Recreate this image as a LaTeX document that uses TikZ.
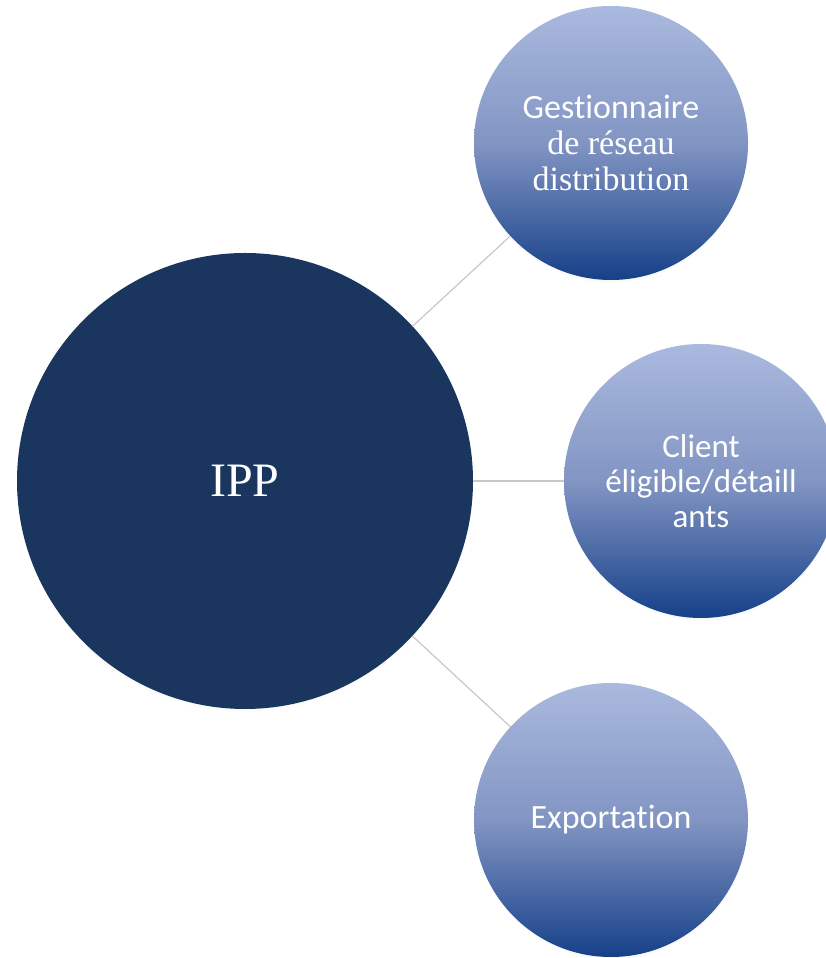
\documentclass[tikz,border=0pt]{standalone}
\usepackage{fontspec}
\setmainfont{Liberation Serif}
\newfontfamily\carlito[Ligatures=NoCommon]{Carlito}
\usetikzlibrary{shadows}
\definecolor{ippblue}{RGB}{26,54,94}
\definecolor{gtop}{RGB}{170,185,222}
\definecolor{gmid}{RGB}{130,149,195}
\definecolor{gbot}{RGB}{22,64,137}
\definecolor{linkgray}{RGB}{200,200,200}
\begin{document}
\begin{tikzpicture}[x=1pt,y=1pt,
  hub/.style={circle, inner sep=0pt, minimum size=456pt, fill=ippblue, text=white,
    font=\fontsize{48}{50}\selectfont,
    circular drop shadow={shadow xshift=0pt, shadow yshift=-3pt, opacity=0.3, shadow scale=1.0}},
  bubble/.style={circle, inner sep=0pt, minimum size=274pt, top color=gtop, bottom color=gbot, middle color=gmid,
    text=white, align=center,
    circular drop shadow={shadow xshift=0pt, shadow yshift=-3pt, opacity=0.3, shadow scale=1.0}},
  link/.style={draw=linkgray, line width=1.2pt}]
\useasboundingbox (0,0) rectangle (825,958);
\fill[white] (0,0) rectangle (825,958);
\node[hub] (ipp) at (245,477) {IPP};
\node[bubble, font=\fontsize{34}{36}\selectfont] (gest) at (611,815) {{\carlito Gestionnaire}\\de réseau\\distribution};
\node[bubble, font=\carlito\fontsize{33}{35}\selectfont] (client) at (701,477) {Client\\éligible/détaill\\ants};
\node[bubble, font=\carlito\fontsize{34}{36}\selectfont] (export) at (611,138) {Exportation};
\draw[link] (ipp) -- (gest);
\draw[link] (ipp) -- (client);
\draw[link] (ipp) -- (export);
\end{tikzpicture}
\end{document}
